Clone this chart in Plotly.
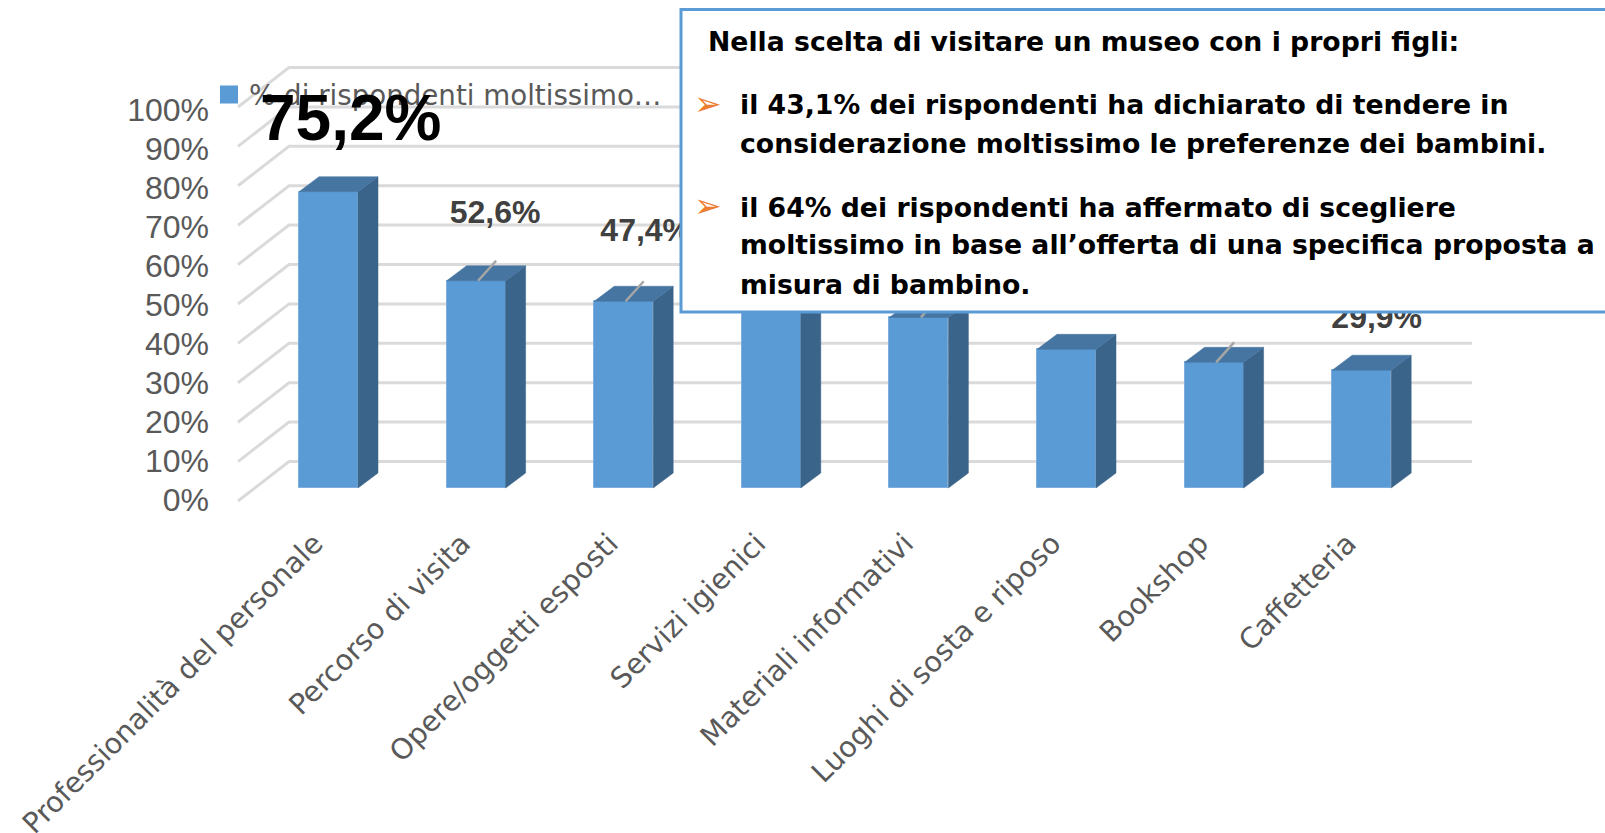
import plotly.graph_objects as go

categories = ["Professionalità del personale", "Percorso di visita", "Opere/oggetti esposti",
              "Servizi igienici", "Materiali informativi", "Luoghi di sosta e riposo",
              "Bookshop", "Caffetteria"]
values = [75.2, 52.6, 47.4, 45.6, 43.3, 35.2, 31.9, 29.9]
labels = ["75,2%", "52,6%", "47,4%", "45,6%", "43,3%", "35,2%", "31,9%", "29,9%"]
series_name = "% di rispondenti moltissimo…"
tick_values = [0, 10, 20, 30, 40, 50, 60, 70, 80, 90, 100]
tick_labels = ["0%", "10%", "20%", "30%", "40%", "50%", "60%", "70%", "80%", "90%", "100%"]
panel_title = "Nella scelta di visitare un museo con i propri figli:"
panel_lines = ["il 43,1% dei rispondenti ha dichiarato di tendere in",
               "considerazione moltissimo le preferenze dei bambini.",
               "il 64% dei rispondenti ha affermato di scegliere",
               "moltissimo in base all’offerta di una specifica proposta a",
               "misura di bambino."]

# layout metrics (pixels)
W, H = 1605, 833
L, PLOT_B = 215, 510
STEP, X0 = 147.6, 328.5
PX_PER = 3.94          # bars and walls
TICK_PX = 3.90         # axis label spacing
TICK_Y0 = 500
def ix(px): return (px - X0) / STEP
def px_x(px): return (px - L) / (W - L)
def px_y(py): return 1 - py / PLOT_B
def tick_y(py): return (TICK_Y0 - py) / TICK_PX

BLUE, SIDE, TOP = "#5B9BD5", "#3A648A", "#4675A1"
GRID, TEXT = "#DADADA", "#595959"
BW = 59 / STEP
DX, DY = 20 / STEP, 15 / PX_PER

fig = go.Figure()

# walls and gridlines (label axis y)
gx = [ix(238), ix(289), ix(1472)]
for v in tick_values:
    front = tick_y(501 - v * PX_PER)
    back = tick_y(461.5 - v * PX_PER)
    fig.add_trace(go.Scatter(x=gx, y=[front, back, back], mode="lines", hoverinfo="skip",
                             line=dict(color=GRID, width=3), showlegend=False, yaxis="y"))

idx = list(range(len(categories)))
fig.add_trace(go.Scatter(x=[None], y=[None], mode="markers", name=series_name, yaxis="y",
                         marker=dict(symbol="square", size=16, color=BLUE, line=dict(color=BLUE, width=2))))

# 3D bars on the bar axis y2
fig.add_trace(go.Bar(x=idx, y=values, width=BW, yaxis="y2", showlegend=False,
                     marker=dict(color=BLUE, line=dict(color="#7FAEDC", width=1))))
sx, sy, tx, ty = [], [], [], []
for i, v in zip(idx, values):
    r = i + BW / 2
    l = i - BW / 2
    sx += [r, r + DX, r + DX, r, r, None]
    sy += [0, DY, v + DY, v, 0, None]
    tx += [l, l + DX, r + DX, r, l, None]
    ty += [v, v + DY, v + DY, v, v, None]
fig.add_trace(go.Scatter(x=sx, y=sy, fill="toself", fillcolor=SIDE, mode="lines", yaxis="y2",
                         line=dict(color=SIDE, width=0.5), showlegend=False, hoverinfo="skip"))
fig.add_trace(go.Scatter(x=tx, y=ty, fill="toself", fillcolor=TOP, mode="lines", yaxis="y2",
                         line=dict(color=TOP, width=0.5), showlegend=False, hoverinfo="skip"))

# leader lines and data labels (offsets in pixels from each bar's top centre)
leader_from = [1, 2, 4, 6]
lx, ly = [], []
for i in leader_from:
    lx += [i + 2 / STEP, i + 20 / STEP, None]
    ly += [values[i], values[i] + 20 / PX_PER, None]
fig.add_trace(go.Scatter(x=lx, y=ly, mode="lines", line=dict(color="#A6A6A6", width=2.5), yaxis="y2",
                         showlegend=False, hoverinfo="skip"))
label_dx = [22, 19, 22, 20, 20, 18, 17, 15]
label_dy = [74, 66, 68, 66, 66, 63, 63, 50]
fig.add_trace(go.Scatter(x=[i + d / STEP for i, d in zip(idx[1:], label_dx[1:])],
                         y=[v + d / PX_PER for v, d in zip(values[1:], label_dy[1:])],
                         text=labels[1:], mode="text", textposition="middle center", yaxis="y2",
                         textfont=dict(family="Liberation Sans", size=32, color="#404040", weight="bold"),
                         showlegend=False, hoverinfo="skip"))

fig.add_shape(type="rect", xref="paper", yref="paper", layer="above",
              x0=px_x(681), x1=px_x(1620), y0=px_y(312), y1=px_y(9.5),
              line=dict(color=BLUE, width=3), fillcolor="white")

annotations = [dict(x=idx[0] + label_dx[0] / STEP, y=values[0] + label_dy[0] / PX_PER, xref="x", yref="y2",
                    text=labels[0], showarrow=False,
                    font=dict(family="Liberation Sans", size=64, color="black", weight="bold"))]
PANEL_FONT = dict(family="DejaVu Sans", size=26.7, color="black", weight="bold")
rows = [(706, 41, panel_title)] + list(zip([738] * 5, [105, 143, 207, 244, 284], panel_lines))
for px, py, t in rows:
    annotations.append(dict(x=px_x(px), y=px_y(py), xref="paper", yref="paper", text=t, showarrow=False,
                            xanchor="left", yanchor="middle", font=PANEL_FONT))
for py in (104, 205):
    annotations.append(dict(x=px_x(708), y=px_y(py), xref="paper", yref="paper", text="➢", showarrow=False,
                            xanchor="center", yanchor="middle",
                            font=dict(family="DejaVu Sans", size=33, color="#ED7D31")))

fig.update_layout(
    width=W, height=H, autosize=False, margin=dict(l=L, r=0, t=0, b=H - PLOT_B, pad=0),
    paper_bgcolor="white", plot_bgcolor="white", annotations=annotations,
    legend=dict(x=px_x(209), y=px_y(95), xanchor="left", yanchor="middle", bgcolor="rgba(0,0,0,0)",
                font=dict(family="DejaVu Sans", size=27.7, color=TEXT)),
    xaxis=dict(range=[ix(L), ix(W)], tickmode="array", tickvals=idx, ticktext=categories, tickangle=-45,
               showgrid=False, zeroline=False, showline=False, ticks="", automargin=False,
               ticklabelstandoff=10, ticklabelshift=-14,
               tickfont=dict(family="DejaVu Sans", size=28.5, color=TEXT)),
    yaxis=dict(range=[tick_y(PLOT_B), tick_y(0)], tickmode="array", tickvals=tick_values,
               ticktext=tick_labels, showgrid=False, zeroline=False, showline=False, ticks="", automargin=False,
               ticklabelstandoff=5,
               tickfont=dict(family="Liberation Sans", size=32, color=TEXT)),
    yaxis2=dict(range=[(488 - PLOT_B) / PX_PER, 488 / PX_PER], overlaying="y", visible=False),
    hovermode=False, bargap=0,
)
fig.write_html("out.html", config=dict(displayModeBar=False),
               post_script="document.body.style.margin='0';document.body.style.overflow='hidden';")
